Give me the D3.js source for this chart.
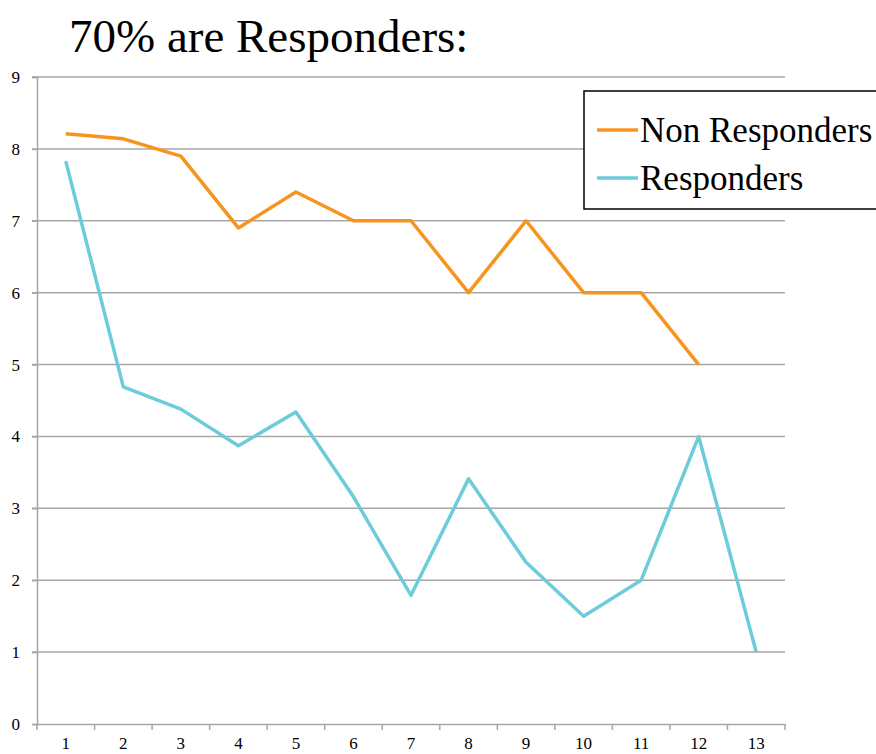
<!DOCTYPE html>
<html><head><meta charset="utf-8">
<script src="https://cdn.jsdelivr.net/npm/d3@7"></script>
<style>body{margin:0;background:#fff}svg{display:block}</style>
</head><body>
<svg id="chart" width="876" height="754"></svg>
<script>
const categories = [1,2,3,4,5,6,7,8,9,10,11,12,13];
const nonResponders = [8.21,8.14,7.9,6.9,7.4,7,7,6,7,6,6,5,null];
const responders = [7.83,4.69,4.38,3.87,4.34,3.16,1.79,3.41,2.25,1.5,2,4,1];
const yTicks = [0,1,2,3,4,5,6,7,8,9];
const seriesNames = ["Non Responders","Responders"];
const colors = ["#F7941D","#6DCCD9"];
const title = "70% are Responders:";

(function(){
const svg = d3.select("#chart");
const FF = "Liberation Serif";
const mLeft = 37, mRight = 785, mTop = 77, mBottom = 724;
const x = d3.scaleBand().domain(categories).range([mLeft, mRight]);
const y = d3.scaleLinear().domain([0,9]).range([mBottom, mTop]);

// gridlines
svg.append("g").selectAll("line").data(yTicks.filter(d=>d>0)).join("line")
  .attr("x1", mLeft-5).attr("x2", mRight).attr("y1", d=>y(d)).attr("y2", d=>y(d))
  .attr("stroke","#A6A6A6").attr("stroke-width",1.5);

// y axis
const yAxis = svg.append("g").attr("transform",`translate(${mLeft},0)`)
  .call(d3.axisLeft(y).tickValues(yTicks).tickSize(5).tickPadding(12));
yAxis.attr("font-family",FF).attr("font-size",17);
yAxis.select(".domain").attr("stroke","#A6A6A6").attr("stroke-width",1.5);
yAxis.selectAll(".tick line").attr("stroke","#A6A6A6").attr("stroke-width",1.5);
yAxis.selectAll("text").attr("font-family",FF).attr("font-size",17).attr("fill","#000");

// x axis
const xAxis = svg.append("g").attr("transform",`translate(0,${mBottom})`)
  .call(d3.axisBottom(x).tickSize(0).tickPadding(13));
xAxis.attr("font-family",FF).attr("font-size",17);
xAxis.select(".domain").attr("stroke","#A6A6A6").attr("stroke-width",1.5);
xAxis.selectAll(".tick line").remove();
xAxis.selectAll("text").attr("font-family",FF).attr("font-size",17).attr("fill","#000");
// band boundary ticks
const bounds = categories.map(c=>x(c)).concat([mRight]);
svg.append("g").selectAll("line").data(bounds).join("line")
  .attr("x1",d=>d).attr("x2",d=>d).attr("y1",mBottom).attr("y2",mBottom+6)
  .attr("stroke","#A6A6A6").attr("stroke-width",1.5);

// lines
const line = d3.line()
  .defined(d=>d.v!=null)
  .x(d=>x(d.c)+x.bandwidth()/2).y(d=>y(d.v));
[nonResponders, responders].forEach((arr,i)=>{
  svg.append("path")
    .datum(categories.map((c,j)=>({c, v:arr[j]})))
    .attr("d", line).attr("fill","none")
    .attr("stroke", colors[i]).attr("stroke-width",3.5)
    .attr("stroke-linejoin","round");
});

// title
svg.append("text").attr("x",69).attr("y",52).text(title)
  .attr("font-family",FF).attr("font-size",47).attr("fill","#000");

// legend
const lg = svg.append("g");
lg.append("rect").attr("x",584).attr("y",91).attr("width",300).attr("height",118)
  .attr("fill","#fff").attr("stroke","#000").attr("stroke-width",1.5);
seriesNames.forEach((n,i)=>{
  const yy = 130 + i*48;
  lg.append("line").attr("x1",597).attr("x2",638).attr("y1",yy).attr("y2",yy)
    .attr("stroke",colors[i]).attr("stroke-width",3.5);
  lg.append("text").attr("x",640).attr("y",yy+12).text(n)
    .attr("font-family",FF).attr("font-size",35).attr("fill","#000");
});
})();
</script>
</body></html>
